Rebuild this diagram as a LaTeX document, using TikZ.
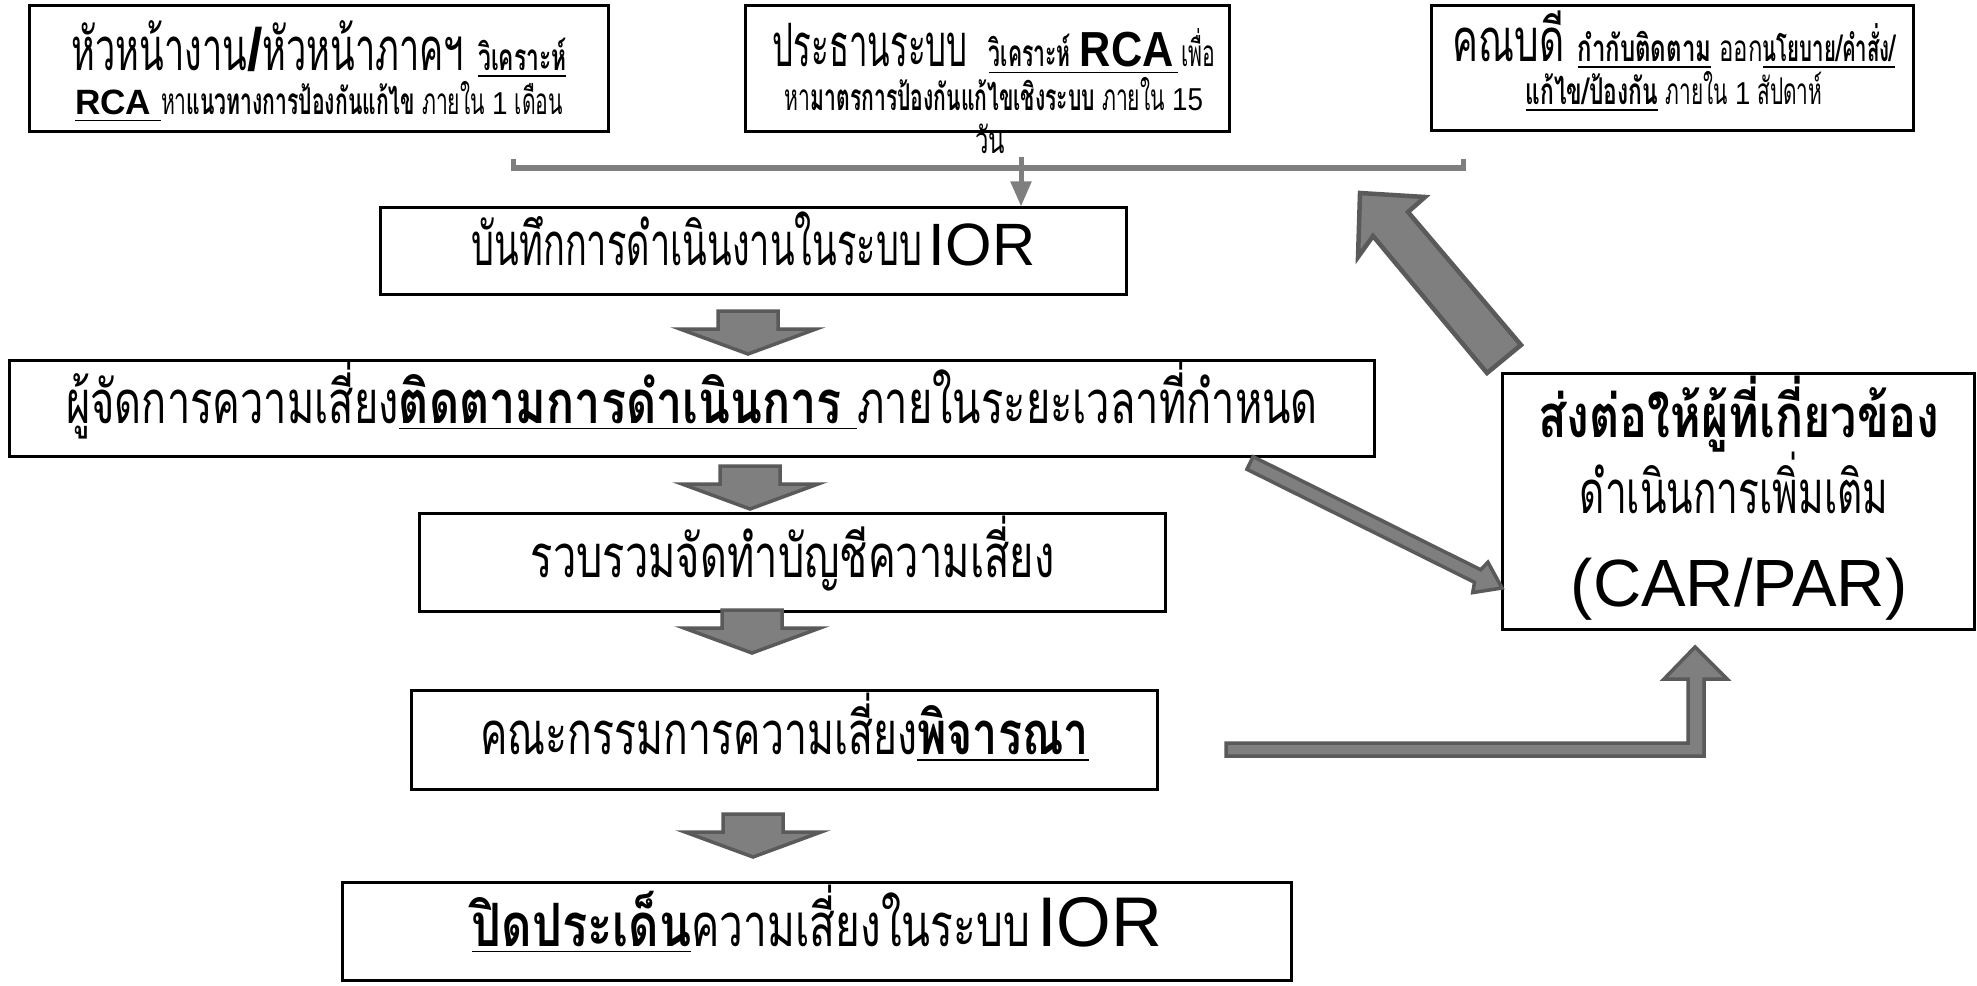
\documentclass[tikz,border=0pt]{standalone}
\usepackage{fontspec}
\setmainfont{Liberation Sans}
\newfontfamily\thaif[Script=Thai,FakeStretch=0.65]{Loma}
\usetikzlibrary{calc,arrows.meta}
\definecolor{arfill}{HTML}{7F7F7F}
\definecolor{arline}{HTML}{5A5A5A}
\definecolor{brk}{HTML}{7F7F7F}
\newcommand\szBT{\fontsize{17}{20}\selectfont}
\newcommand\szST{\fontsize{10.5}{12}\selectfont}
\newcommand\hs[2]{\scalebox{#1}[1]{#2}}
\newcommand\dig[1]{{\rmfamily\fontsize{9}{9}\selectfont #1}}
\tikzset{
  box/.style={draw=black, line width=0.03cm, inner sep=0pt, fill=white},
  tbox/.style={box, font=\thaif\szBT, text height=8.5pt, text depth=0pt},
  blk/.style={fill=arfill, draw=arline, line width=0.035cm, line join=miter},
  lbl/.style={anchor=base, inner sep=0pt, font=\thaif\szBT, text depth=0pt},
  brkline/.style={draw=brk, line width=0.05cm},
}
\begin{document}
\begin{tikzpicture}[x=0.01cm, y=-0.01cm]
\useasboundingbox[fill=white] (0,0) rectangle (1977,985);

% top boxes
\node[box, minimum width=5.78cm, minimum height=1.25cm] (A) at (319,68.5) {};
\node[box, minimum width=4.83cm, minimum height=1.25cm] (B) at (987.5,68.5) {};
\node[box, minimum width=4.81cm, minimum height=1.24cm] (C) at (1672.5,68) {};

\node[lbl] (A1) at (319,71) {\hs{0.93}{หัวหน้างาน{\rmfamily\bfseries /}หัวหน้าภาคฯ}\hspace{4pt}{\szST\bfseries\hs{0.95}{\underline{วิเคราะห์}}}};
\node[lbl, text height=7pt] (A2) at (319,115) {{\rmfamily\fontsize{10}{12}\selectfont\bfseries\underline{RCA\ }}{\szST\hs{0.88}{หา\textbf{แนวทางการป้องกันแก้ไข} ภายใน \dig{1} เดือน}}};

\node[lbl, anchor=base west] (B1a) at (772,67) {\hs{0.85}{ประธานระบบ}};
\node[lbl, anchor=base east] (B1b) at (1216,67) {\szST\hs{0.88}{\underline{\textbf{วิเคราะห์}\hspace{3pt}{\rmfamily\fontsize{14}{14}\selectfont\bfseries RCA}\hspace{1.5pt}}\hspace{1pt}เพื่อ}};
\node[lbl, text height=7pt] (B2) at (994,111) {\szST\hs{0.88}{หา\textbf{มาตรการป้องกันแก้ไขเชิงระบบ} ภายใน \dig{15}}};
\node[lbl, font=\thaif\szST] (B3) at (990,153) {วัน};

\node[lbl] (C1) at (1674,62) {คณบดี {\szST\underline{\textbf{กำกับติดตาม}} ออก\underline{\textbf{\hs{0.85}{นโยบาย/คำสั่ง/}}}}};
\node[lbl, text height=7pt] (C2) at (1674,105) {\szST\underline{\textbf{\hs{0.95}{แก้ไข/ป้องกัน}}} \hs{0.87}{ภายใน \dig{1} สัปดาห์}};

% bracket and thin arrow
\coordinate (bl) at (513,159);
\coordinate (br) at (1463,159);
\coordinate (bm) at (1021,157);
\draw[brkline] (bl) -- (bl |- 0,168) -- (br |- 0,168) -- (br);

% main column boxes
\node[tbox, minimum width=7.45cm, minimum height=0.86cm] (D) at (753.5,251)
  {\hs{0.93}{บันทึกการดำเนินงานในระบบ}\hspace{2pt}{\rmfamily\fontsize{17}{18}\selectfont IOR}};
\draw[brkline, -{Triangle[width=0.2cm,length=0.25cm]}] (bm) -- (bm |- D.north);

\node[tbox, minimum width=13.64cm, minimum height=0.95cm] (E) at (692,408.5)
  {\hs{1.07}{ผู้จัดการความเสี่ยง}\hs{1.2}{\underline{\textbf{ติดตามการดำเนินการ}\ }}\hs{1.07}{ภายในระยะเวลาที่กำหนด}};
\node[tbox, minimum width=7.45cm, minimum height=0.97cm] (F) at (792.5,562.5)
  {\hs{1.07}{รวบรวมจัดทำบัญชีความเสี่ยง}};
\node[tbox, minimum width=7.45cm, minimum height=0.98cm] (G) at (784.5,740)
  {\hs{1.055}{คณะกรรมการความเสี่ยง}\hs{1.15}{\underline{\textbf{พิจารณา}}}};
\node[tbox, minimum width=9.48cm, minimum height=0.97cm] (H) at (817,931.5)
  {\hs{1.21}{\underline{\textbf{ปิดประเด็น}}}\hs{1.09}{ความเสี่ยงในระบบ}\hspace{2pt}{\rmfamily\fontsize{20}{20}\selectfont IOR}};

% right box
\node[box, minimum width=4.71cm, minimum height=2.55cm] (I) at (1738.5,501.5) {};
\node[lbl] (I1) at (1739,437) {\hs{1.2}{\textbf{ส่งต่อให้ผู้ที่เกี่ยวข้อง}}};
\node[lbl] (I2) at (1734,513) {ดำเนินการเพิ่มเติม};
\node[lbl, font=\rmfamily\fontsize{19}{20}\selectfont] (I3) at (1739,606) {(CAR/PAR)};

% down block arrows
\newcommand\dblk[2]{%
  \draw[blk] ({#1-30},{#2}) -- ({#1+30},{#2}) -- ({#1+30},{#2+18}) -- ({#1+68},{#2+18})
    -- ({#1},{#2+43}) -- ({#1-68},{#2+18}) -- ({#1-30},{#2+18}) -- cycle;}
\dblk{748}{311}
\dblk{750}{466}
\dblk{752}{610}
\dblk{753}{814}

% diagonal arrow E -> I
\draw[blk] (1253.1,456.7) -- (1480.7,569.7) -- (1487.9,562.2) -- (1502,588)
  -- (1472.7,592.6) -- (1474.5,582.3) -- (1246.9,469.3) -- cycle;

% big arrow I -> top
\draw[blk, line width=0.045cm] (1521,345) -- (1408,212) -- (1425,197) -- (1360,193)
  -- (1358,257) -- (1373,236) -- (1487,373) -- cycle;

% elbow arrow G -> I
\draw[blk] (1226,743) -- (1688,743) -- (1688,679) -- (1664,679) -- (1695,647)
  -- (1727,679) -- (1704,679) -- (1704,756) -- (1226,756) -- cycle;
\end{tikzpicture}
\end{document}
